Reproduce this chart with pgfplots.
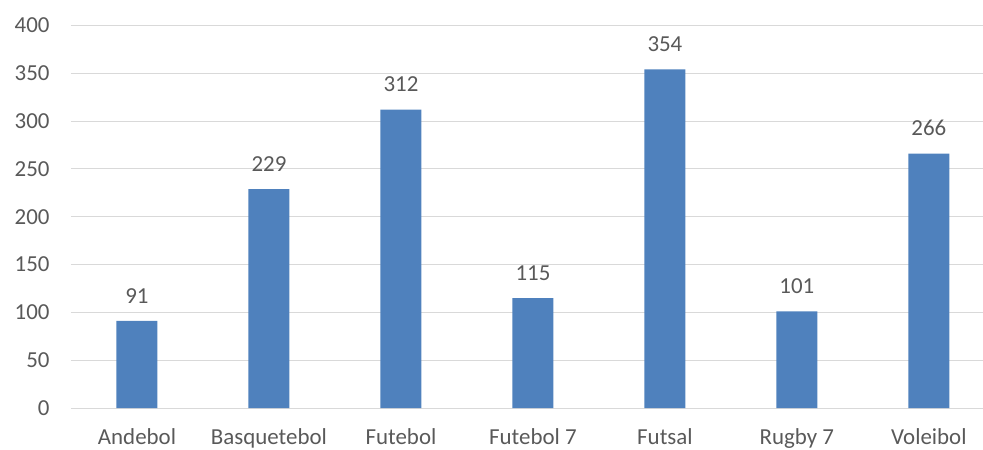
\documentclass[border=0pt]{standalone}
\usepackage{fontspec}
\setmainfont{Carlito}
\usepackage{pgfplots}
\pgfplotsset{compat=1.18}
\definecolor{barblue}{HTML}{4F81BD}
\definecolor{gridgray}{HTML}{D9D9D9}
\definecolor{txtgray}{HTML}{595959}
\begin{document}
\begin{tikzpicture}[x=1bp,y=1bp]
\begin{axis}[
  at={(0,0)}, anchor=south west,
  scale only axis,
  width=912bp, height=382.5bp,
  xmin=-0.5, xmax=6.41,
  ymin=0, ymax=400,
  ytick={0,50,...,400},
  xtick={0,1,2,3,4,5,6},
  xticklabels={Andebol,Basquetebol,Futebol,Futebol 7,Futsal,Rugby 7,Voleibol},
  ymajorgrids,
  grid style={gridgray, line width=1bp},
  axis line style={draw=none},
  major tick length=0pt,
  tick label style={font=\fontsize{23}{27}\selectfont, text=txtgray},
  /pgf/number format/assume math mode=true,
  xticklabel style={yshift=-17bp},
  yticklabel style={xshift=-18bp},
  clip=false,
  nodes near coords,
  every node near coord/.append style={font=\fontsize{23}{27}\selectfont, text=txtgray, yshift=14bp},
]
\addplot[ybar, bar width=41bp, fill=barblue, draw=none] coordinates {
(0,91) (1,229) (2,312) (3,115) (4,354) (5,101) (6,266)
};
\end{axis}
\pgfresetboundingbox
\path[use as bounding box] (-71bp,-42bp) rectangle (912bp,408bp);
\end{tikzpicture}
\end{document}
